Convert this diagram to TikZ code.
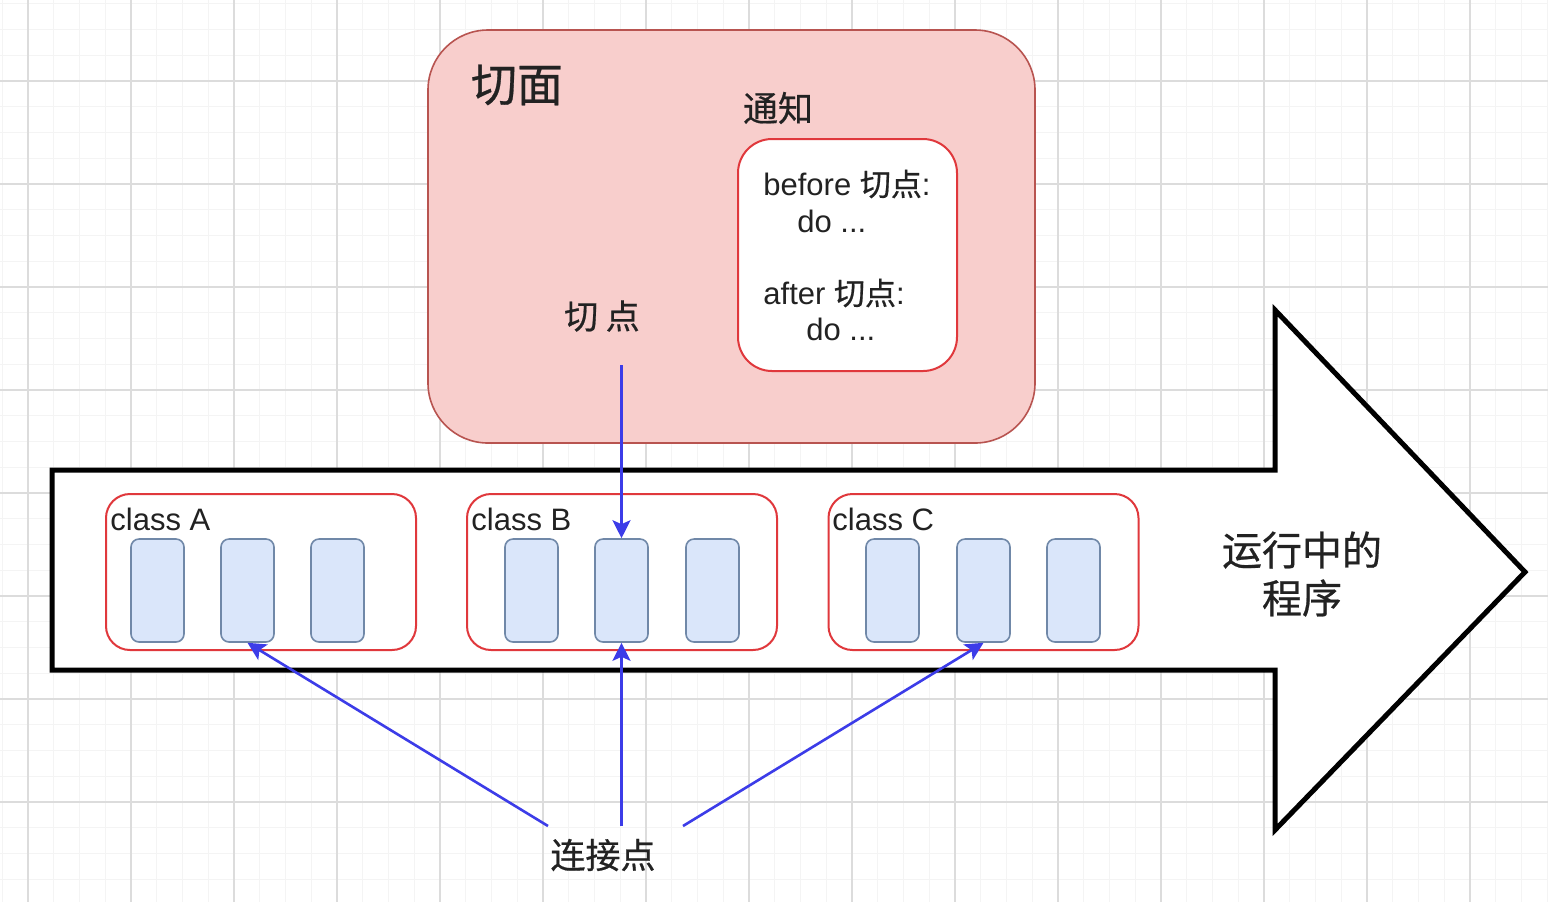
\documentclass[tikz,border=0pt]{standalone}
\usepackage{fontspec}
\setmainfont{Liberation Sans}
\newfontfamily\cjk[FakeBold=0.6]{Noto Sans CJK SC}
\usetikzlibrary{arrows.meta}
\definecolor{aspectfill}{HTML}{F8CECC}
\definecolor{aspectborder}{HTML}{B85450}
\definecolor{redborder}{HTML}{E0383C}
\definecolor{methodfill}{HTML}{DAE6FA}
\definecolor{methodborder}{HTML}{7088A8}
\definecolor{linkblue}{HTML}{3C3CE8}
\definecolor{gridmajor}{HTML}{DCDCDC}
\definecolor{gridminor}{HTML}{F4F4F4}
\definecolor{darktext}{HTML}{222222}
\tikzset{
  aspectbox/.style={
    rectangle,
    rounded corners=30pt,
    fill=aspectfill,
    draw=aspectborder,
    line width=0.8pt,
    minimum width=303.5pt,
    minimum height=206.5pt
  },
  advicebox/.style={rectangle, rounded corners=17pt, fill=white, draw=redborder, line width=1pt, minimum width=109.5pt, minimum height=116pt},
  clsbox/.style={rectangle, rounded corners=12pt, fill=white, draw=redborder, line width=1pt, minimum width=155pt, minimum height=78pt},
  method/.style={rectangle, rounded corners=4pt, fill=methodfill, draw=methodborder, line width=0.8pt, minimum width=26.5pt, minimum height=51.5pt},
  txt/.style={text=darktext, inner sep=0pt, font=\fontsize{15.5}{18}\selectfont},
  cjktxt/.style={text=darktext, inner sep=0pt, align=center, font=\cjk\fontsize{#1}{24}\selectfont},
  program/.style={draw=black, fill=white, line width=2.5pt, line join=miter},
  link/.style={-{Stealth[length=9pt, width=9pt, inset=2pt]}, line width=1.3pt, draw=linkblue},
  majorline/.style={draw=gridmajor, line width=0.7pt},
  minorline/.style={draw=gridminor, line width=0.5pt}
}

\begin{document}
\begin{tikzpicture}[x=0.5pt, y=-0.5pt]

\useasboundingbox (0,0) rectangle (1548,902);
\fill[white] (0,0) rectangle (1548,902);

% Background grid.
\foreach \i in {0,...,60} {
  \draw[minorline] ({2.25+25.75*\i},0) -- ++(0,902);
}
\foreach \i in {0,...,34} {
  \draw[minorline] (0,{3.75+25.75*\i}) -- ++(1548,0);
}
\foreach \i in {0,...,14} {
  \draw[majorline] ({28+103*\i},0) -- ++(0,902);
}
\foreach \i in {0,...,7} {
  \draw[majorline] (0,{81+103*\i}) -- ++(1548,0);
}

% Aspect.
\node[aspectbox] (aspect) at (731.5,236.5) {};
\node[cjktxt=23] (aspectlbl) at (517,85) {切面};
\node[cjktxt=17.5] (advicelbl) at (778,108) {通知};
\node[advicebox] (advice) at (847.5,255) {};
\node[txt, anchor=west] (before) at (763,184) {before {\cjk 切点}:};
\node[txt, anchor=west] (beforedo) at (797,221) {do ...};
\node[txt, anchor=west] (after) at (763,293) {after {\cjk 切点}:};
\node[txt, anchor=west] (afterdo) at (806,329) {do ...};
\node[cjktxt=17] (cutpt) at (602,316) {切 点};

% Running program.
\draw[program] (52,470) -- (1275,470) -- (1275,310) -- (1525,572)
  -- (1275,830) -- (1275,670) -- (52,670) -- cycle;
\node[cjktxt=20] (running) at (1302,574) {运行中的\\程序};

% Classes.
\node[clsbox] (classA) at (261,572) {};
\node[clsbox] (classB) at (622,572) {};
\node[clsbox] (classC) at (983.5,572) {};
\node[txt, anchor=base west] (lblA) at (110,530) {class A};
\node[txt, anchor=base west] (lblB) at (471,530) {class B};
\node[txt, anchor=base west] (lblC) at (832,530) {class C};
\foreach \x/\n in {157.5/a1,247.5/a2,337.5/a3,531.5/b1,621.5/b2,712.5/b3,892.5/c1,983.5/c2,1073.5/c3} {
  \node[method] (\n) at (\x,590.5) {};
}

% Join points.
\node[cjktxt=17.5] (joinpt) at (603,855) {连接点};
\coordinate (cutfrom) at (621.5,365);
\coordinate (joinl) at (548,826);
\coordinate (joinm) at (621.5,826);
\coordinate (joinr) at (683,826);

% Links.
\draw[link] (cutfrom) -- (b2.north);
\draw[link] (joinl) -- (a2.south);
\draw[link] (joinm) -- (b2.south);
\draw[link] (joinr) -- (c2.south);

\end{tikzpicture}
\end{document}
